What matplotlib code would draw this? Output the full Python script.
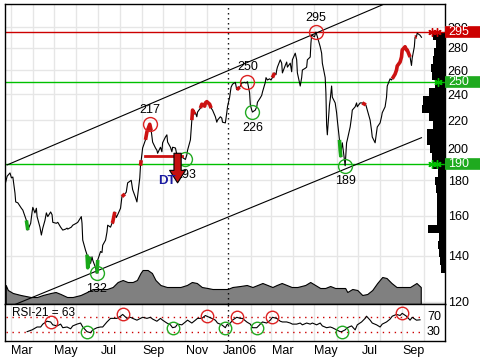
import matplotlib
matplotlib.use("Agg")
import matplotlib.pyplot as plt
import matplotlib.transforms as mtransforms
from matplotlib.patches import Rectangle
from matplotlib.ticker import NullLocator, NullFormatter
import numpy as np
import pandas as pd

plt.rcParams['font.family'] = ['Liberation Sans', 'DejaVu Sans']
plt.rcParams['font.size'] = 8.5

# first trading day on the chart, prices are indexed by trading day
start = '2005-02-22'

day = [0, 2, 4, 6, 8, 9, 10, 13, 16, 18, 21, 23, 25, 27, 28, 29, 31, 32, 34, 36,
       38, 39, 41, 43, 45, 47, 48, 51, 53, 55, 58, 60, 62, 63, 66, 68, 71, 73, 76, 77,
       78, 80, 82, 83, 84, 85, 87, 88, 90, 92, 93, 95, 97, 98, 100, 102, 103, 105, 107, 108,
       109, 111, 113, 115, 117, 119, 121, 123, 126, 128, 130, 132, 134, 135, 136, 138, 140, 142, 144, 146,
       148, 150, 152, 153, 155, 157, 158, 160, 162, 163, 165, 167, 168, 170, 172, 174, 177, 180, 182, 183,
       185, 187, 188, 189, 190, 192, 193, 195, 197, 199, 200, 202, 204, 206, 208, 210, 212, 213, 215, 217,
       218, 220, 222, 223, 224, 226, 228, 230, 232, 234, 235, 237, 239, 241, 243, 244, 245, 247, 248, 250,
       252, 253, 255, 257, 258, 260, 261, 263, 264, 266, 268, 269, 271, 272, 273, 275, 277, 278, 280, 282,
       283, 285, 287, 288, 290, 292, 293, 295, 297, 298, 300, 302, 303, 305, 306, 307, 309, 311, 313, 315,
       317, 318, 320, 321, 322, 323, 324, 325, 327, 328, 330, 332, 333, 334, 335, 336, 337, 338, 340, 342,
       343, 345, 347, 348, 350, 352, 353, 355, 358, 361, 363, 365, 367, 368, 370, 372, 373, 375, 377, 378,
       380, 382, 383, 385, 387, 388, 390, 392, 393, 395, 397, 398, 400, 402, 403, 405, 407, 408, 409, 410,
       412, 413, 415, 417]

close = [179, 182.5, 184.5, 181.5, 182, 172.5, 167.5, 167, 164, 163, 157.5, 152.5, 156, 162, 164.5, 161.5, 164, 159.5, 154, 150,
         153.5, 157.5, 161.5, 159.5, 162, 160.5, 156.5, 156, 156.5, 154, 152.5, 153, 153.5, 153, 154, 155, 156, 156.5, 159.5, 156,
         147.5, 142.5, 140.5, 134.5, 139.5, 136.5, 139.5, 138, 134.5, 132, 138, 142, 141.5, 145, 147.5, 151.5, 155, 154, 156, 156.5,
         162, 159, 160.5, 164, 170.5, 172, 173, 178.5, 180, 174.5, 170, 167.5, 181.5, 189, 192.5, 200.5, 206, 211.5, 217, 212.5,
         204.5, 200.5, 199, 197, 201, 198, 204, 208, 209.5, 204.5, 201, 198, 201, 200.5, 196, 194, 194.5, 193, 196, 199,
         206, 220, 227.5, 224.5, 225.5, 222.5, 226, 229, 232, 230.5, 233, 234, 232, 229, 227.5, 222.5, 218.5, 220, 222.5, 221.5,
         218.5, 218, 225.5, 230, 237.5, 245.5, 248, 249.5, 243.5, 245.5, 246.5, 249, 249.5, 249, 250, 241, 231.5, 227.5, 226, 227.5,
         230, 233.5, 237, 239, 241.5, 249.5, 253.5, 251.5, 252.5, 251.5, 253.5, 257.5, 256, 260, 262.5, 269, 266, 257.5, 264, 267,
         262.5, 266, 258.5, 269, 275, 269, 257.5, 246.5, 253.5, 260, 261.5, 262.5, 269, 271.5, 284.5, 292, 290.5, 295, 290.5, 281,
         275, 266, 253.5, 241, 216.5, 209.5, 231.5, 235.5, 246.5, 237.5, 233, 225.5, 220, 206, 199, 194.5, 201, 204, 189, 204,
         206, 215, 222.5, 227.5, 230, 233, 230, 233, 233, 231.5, 227.5, 220, 212.5, 208, 204, 211, 215, 218, 222.5, 225.5,
         230, 237.5, 246.5, 252.5, 251.5, 252.5, 256.5, 260, 263.5, 267, 271.5, 278, 281, 278, 278, 271.5, 264, 270.5, 281, 290,
         290.5, 294, 292, 290]

vol_day = [0, 3, 8, 15, 25, 32, 38, 45, 50, 55, 62, 68, 75, 82, 88, 95, 102, 108, 113, 118,
           123, 128, 132, 135, 138, 143, 147, 150, 155, 162, 168, 175, 182, 187, 192, 197, 203, 208, 215, 223,
           228, 235, 242, 248, 253, 258, 263, 268, 272, 277, 282, 287, 293, 300, 305, 310, 315, 320, 325, 330,
           335, 340, 343, 348, 353, 358, 363, 368, 373, 378, 382, 387, 392, 398, 405, 412, 416]
vol = [19, 14, 11, 9, 7, 7, 9, 11, 12, 10, 7, 7, 9, 12, 15, 15, 15, 17, 22, 24,
       22, 22, 24, 31, 34, 34, 31, 24, 19, 17, 17, 17, 19, 22, 21, 17, 16, 15, 15, 15,
       17, 18, 19, 17, 19, 21, 19, 17, 19, 21, 19, 17, 17, 19, 22, 19, 16, 16, 18, 16,
       16, 16, 12, 15, 14, 9, 10, 14, 21, 27, 26, 21, 17, 17, 17, 21, 17]

rsi_day = [22, 27, 32, 35, 38, 42, 45, 48, 52, 55, 58, 62, 65, 68, 72, 75, 78, 82, 85, 88,
           92, 95, 98, 102, 105, 108, 112, 115, 118, 122, 125, 128, 132, 135, 138, 142, 145, 148, 152, 155,
           158, 162, 165, 168, 170, 173, 177, 180, 183, 187, 190, 193, 197, 200, 202, 207, 210, 213, 217, 220,
           222, 225, 228, 232, 235, 238, 242, 245, 248, 252, 255, 258, 262, 265, 268, 272, 275, 278, 282, 285,
           288, 292, 295, 298, 302, 305, 308, 312, 315, 318, 322, 325, 328, 332, 335, 337, 340, 343, 347, 350,
           353, 357, 360, 362, 365, 368, 372, 375, 378, 382, 385, 388, 392, 395, 398, 402, 405, 408, 412, 415]
rsi = [30, 35, 43, 43, 51, 59, 57, 49, 46, 51, 41, 43, 38, 46, 51, 54, 43, 30, 27, 35,
       41, 43, 43, 57, 67, 67, 67, 73, 78, 67, 70, 67, 62, 67, 70, 67, 70, 65, 59, 67,
       62, 54, 49, 41, 43, 51, 49, 57, 62, 54, 62, 67, 67, 75, 73, 67, 62, 54, 49, 41,
       49, 54, 62, 70, 67, 67, 57, 51, 41, 41, 51, 57, 54, 62, 70, 67, 59, 57, 57, 54,
       51, 51, 54, 49, 54, 51, 54, 49, 54, 46, 41, 43, 41, 35, 30, 30, 35, 41, 46, 35,
       49, 57, 67, 73, 62, 54, 49, 43, 51, 57, 65, 73, 78, 75, 81, 73, 62, 70, 62, 63]

# stretches drawn thick in red / green on the price line
red_runs = [(107, 109), (117, 119), (135, 136), (139, 146), (187, 189), (195, 206),
            (232, 234), (268, 269), (358, 361), (388, 405), (410, 412)]
green_runs = [(21, 23), (82, 84), (92, 93), (334, 336)]

peak_days = [144, 243, 311]
trough_days = [92, 180, 248, 340]
rsi_peak_days = [45, 118, 202, 232, 268, 398]
rsi_trough_days = [82, 168, 220, 252, 337]

resistance = 295
supports = [250, 190]
channel_top = [(2, 189.5), (390, 329)]
channel_bottom = [(0, 117.5), (417, 207.5)]

dt_days = (140, 177)
dt_level = 195.5
dt_arrow_day = 173
dt_arrow = (197, 178.5)
dt_text_day = 162
dt_text_price = 179.5

# volume-at-price histogram, top (295) to bottom (132)
hist_lo, hist_hi = 132, 295
hist_width = [12, 9, 11, 12, 14, 13, 10, 16, 22, 23, 16, 12, 18, 18, 15,
              13, 12, 7, 10, 9, 8, 8, 8, 8, 17, 6, 7, 6, 5, 4]

price_ticks = [120, 140, 160, 180, 200, 220, 240, 260, 280, 300]
month_ticks = ['2005-03-17', '2005-05-17', '2005-07-17', '2005-09-17', '2005-11-17',
               '2006-01-17', '2006-03-17', '2006-05-17', '2006-07-17', '2006-09-17']
month_labels = ['Mar', 'May', 'Jul', 'Sep', 'Nov', 'Jan06', 'Mar', 'May', 'Jul', 'Sep']

RED = '#cc1111'
GREEN = '#18a818'
LRED = '#cc0000'
LGREEN = '#00c000'
BOXGREEN = '#1faa1f'
GRID = '#e6e6e6'

dates = pd.bdate_range(start, periods=day[-1] + 1)
px = dates[day]
close_a = np.array(close)
day_a = np.array(day)

fig = plt.figure(figsize=(4.8, 3.6), dpi=100)
ax = fig.add_axes([5 / 480, 56 / 360, 440 / 480, 300 / 360])
axr = fig.add_axes([5 / 480, 19 / 360, 440 / 480, 37 / 360], sharex=ax)

ax.set_yscale('log')
yt = mtransforms.blended_transform_factory(ax.transAxes, ax.transData)

# volume area along the bottom of the price panel
ax.fill_between(dates[vol_day], 0, np.array(vol) / 300.0,
                transform=ax.get_xaxis_transform(),
                facecolor='#808080', edgecolor='black', lw=0.8, zorder=1)

# volume by price on the right edge
edges = np.geomspace(hist_lo, hist_hi, len(hist_width) + 1)
for i, w in enumerate(hist_width[::-1]):
    ax.add_patch(Rectangle((1 - w / 440, edges[i]), w / 440, edges[i + 1] - edges[i],
                           transform=yt, facecolor='black', edgecolor='none', zorder=1))

ax.axhline(resistance, color=LRED, lw=1, zorder=2)
for s in supports:
    ax.axhline(s, color=LGREEN, lw=1, zorder=2)

for seg in (channel_top, channel_bottom):
    ax.plot(dates[[seg[0][0], seg[1][0]]], [seg[0][1], seg[1][1]],
            color='black', lw=0.8, zorder=2)

ax.plot(px, close_a, color='black', lw=0.8, zorder=3)
for runs, col in ((red_runs, RED), (green_runs, GREEN)):
    for a, b in runs:
        m = (day_a >= a) & (day_a <= b)
        ax.plot(px[m], close_a[m], color=col, lw=2.6, solid_capstyle='butt', zorder=3.5)

for d in peak_days:
    c = close[day.index(d)]
    ax.plot(dates[d], c, 'o', mfc='none', mec='#dd2222', ms=10, mew=1, zorder=4)
    ax.annotate(f'{c:.0f}', (dates[d], c), xytext=(0, 6), textcoords='offset points',
                ha='center', va='bottom', fontsize=9, zorder=5)
for d in trough_days:
    c = close[day.index(d)]
    ax.plot(dates[d], c, 'o', mfc='none', mec='#22aa22', ms=10, mew=1, zorder=4)
    ax.annotate(f'{c:.0f}', (dates[d], c), xytext=(0, -7), textcoords='offset points',
                ha='center', va='top', fontsize=9, zorder=5)

# double top pattern
ax.plot([dates[dt_days[0]], dates[dt_days[1]]], [dt_level, dt_level], color=RED, lw=2, zorder=4)
ax.annotate('', xy=(dates[dt_arrow_day], dt_arrow[1]), xytext=(dates[dt_arrow_day], dt_arrow[0]),
            arrowprops=dict(arrowstyle='simple,head_length=9,head_width=11.5,tail_width=5.2',
                            mutation_scale=1, fc='#c41010', ec='black', lw=0.8,
                            shrinkA=0, shrinkB=0), zorder=6)
ax.text(dates[dt_text_day], dt_text_price, 'DT', color='#1a1aa0', fontweight='bold',
        fontsize=9.5, ha='center', va='center', zorder=6)

# level boxes on the right
for level, col, box, xs in ((resistance, LRED, LRED, [0.9705, 0.982]),
                            (supports[0], LGREEN, BOXGREEN, [0.984]),
                            (supports[1], LGREEN, BOXGREEN, [0.9705, 0.982])):
    ax.plot([1.0, 1.1], [level, level], transform=yt, color=box,
            lw=8.4, solid_capstyle='butt', clip_on=False, zorder=6)
    ax.text(1.0 + 3 / 440, level, f'{level}', transform=yt, color='white', fontsize=9,
            ha='left', va='center', clip_on=False, zorder=7)
    ax.plot(xs, [level] * len(xs), transform=yt, ls='none', marker=(6, 2, 0), ms=6,
            mew=1, color=col, clip_on=False, zorder=6)

# RSI panel
rd = dates[rsi_day]
axr.plot(rd, rsi, color='black', lw=0.8, zorder=3)
for lvl in (70, 30):
    axr.plot([dates[0], dates[-1]], [lvl, lvl], color=LRED, lw=1, ls=(0, (1, 3.3)), zorder=2)
    axr.text(0.959, lvl, str(lvl), transform=mtransforms.blended_transform_factory(axr.transAxes, axr.transData),
             ha='left', va='center', fontsize=9)
for d in rsi_peak_days:
    axr.plot(dates[d], rsi[rsi_day.index(d)], 'o', mfc='none', mec='#dd2222', ms=9, mew=1, zorder=4)
for d in rsi_trough_days:
    axr.plot(dates[d], rsi[rsi_day.index(d)], 'o', mfc='none', mec='#22aa22', ms=9, mew=1, zorder=4)
axr.text(0.016, 0.77, f'RSI-21 = {rsi[-1]}', transform=axr.transAxes, ha='left', va='center')

for a in (ax, axr):
    a.axvline(pd.Timestamp('2005-12-31'), color='black', lw=1, ls=(0, (1, 2.6)), zorder=2)

# axes and grid
ax.set_xlim(pd.Timestamp('2005-02-21'), pd.Timestamp('2006-10-31'))
ax.set_ylim(119.2, 324)
axr.set_ylim(4, 107)

grid_months = [m for m in pd.date_range('2005-03-01', '2006-10-01', freq='MS')
               if m != pd.Timestamp('2006-01-01')]
axr.set_xticks(pd.to_datetime(month_ticks), month_labels)
axr.set_xticks(grid_months, minor=True)
axr.xaxis.set_minor_formatter(NullFormatter())
ax.tick_params(axis='x', which='both', length=0, labelbottom=False)
axr.tick_params(axis='x', which='both', length=0, pad=3, labelsize=9)

ax.yaxis.tick_right()
ax.set_yticks(price_ticks)
ax.set_yticklabels([str(t) for t in price_ticks])
ax.yaxis.set_minor_locator(NullLocator())
ax.tick_params(axis='y', length=0, pad=2, labelsize=9)
axr.set_yticks([])

for a in (ax, axr):
    a.set_axisbelow(True)
    a.grid(True, which='minor', axis='x', color=GRID, lw=1)
    a.grid(False, which='major', axis='x')
    for sp in a.spines.values():
        sp.set_color('black')
        sp.set_linewidth(1)
ax.grid(True, which='major', axis='y', color=GRID, lw=1)

fig.savefig('out.png', dpi=100)
